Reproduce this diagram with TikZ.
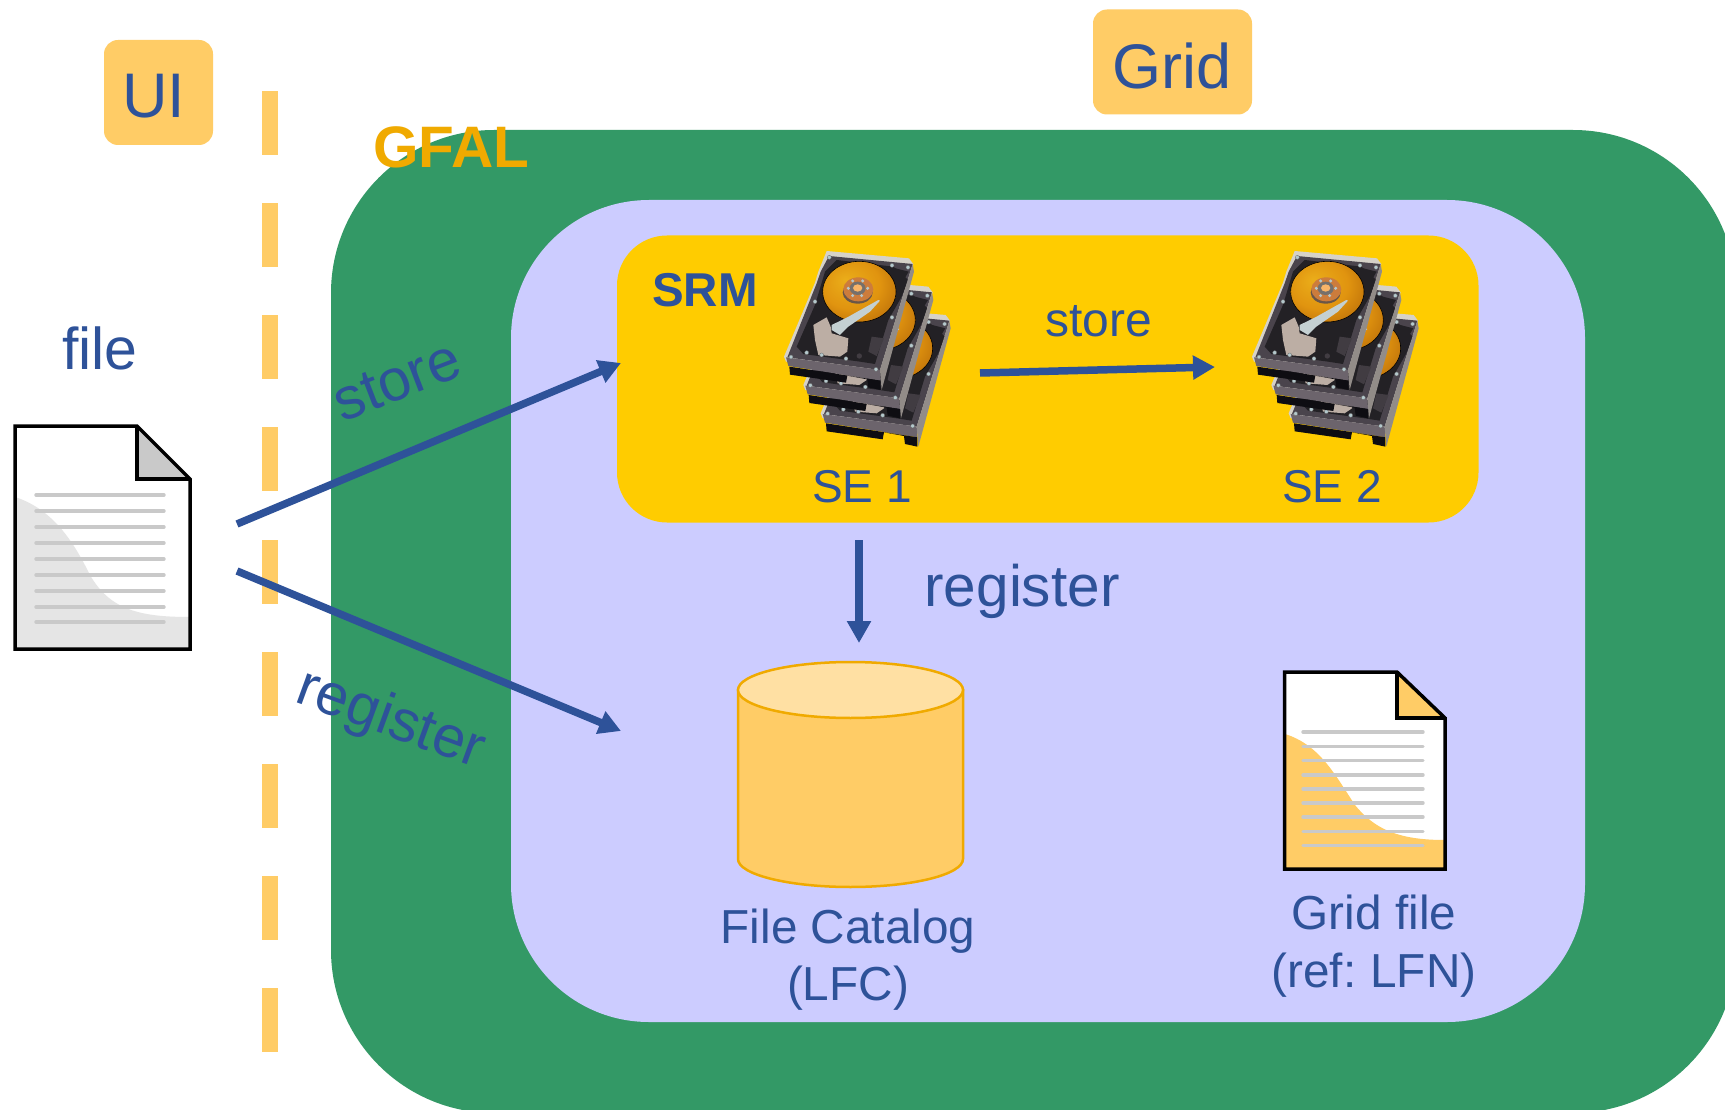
\documentclass[tikz,border=0pt]{standalone}
\usepackage{fontspec}
\setmainfont{Liberation Sans}
\usetikzlibrary{arrows.meta}
\definecolor{txtblue}{HTML}{2E5299}
\definecolor{gfalgreen}{HTML}{339966}
\definecolor{lav}{HTML}{CCCCFF}
\definecolor{srmyellow}{HTML}{FFCC00}
\definecolor{softorange}{HTML}{FFCC66}
\definecolor{deeporange}{HTML}{F0AA00}
\definecolor{hddrim}{HTML}{D6D2C8}
\definecolor{hddplate}{HTML}{4A444C}
\definecolor{hddpit}{HTML}{232125}
\definecolor{hddmid}{HTML}{413C42}
\definecolor{hddband}{HTML}{6C646C}
\definecolor{hddside}{HTML}{928C88}
\definecolor{hddblack}{HTML}{0E0D12}
\definecolor{hubb}{HTML}{CC7C3C}
\definecolor{hubs}{HTML}{6A5648}
\definecolor{hubc}{HTML}{F8B468}
\definecolor{hubr}{HTML}{75706C}
\definecolor{actc}{HTML}{BCAEA4}
\definecolor{armc}{HTML}{C4D0D2}
\definecolor{screwc}{HTML}{B4C8CC}
\pgfdeclareradialshading{platterfill}{\pgfpoint{-10bp}{10bp}}{%
  rgb(0bp)=(0.92,0.68,0.10);
  rgb(20bp)=(0.88,0.58,0.06);
  rgb(32bp)=(0.76,0.46,0.04);
  rgb(50bp)=(0.56,0.30,0.02)}
\newcommand{\fsz}[1]{\fontsize{#1}{#1}\selectfont}
\tikzset{
  label/.style={text=txtblue,inner sep=0pt,font=\fsz{#1}},
  tagbox/.style={fill=softorange,rounded corners=14pt},
  dashbar/.style={fill=softorange},
  flow/.style={draw=txtblue,line width=7.5pt,-{Triangle[length=22pt,width=23pt]}},
  docline/.style={draw=black!21,line width=3.4pt,line cap=round},
  docedge/.style={draw=black,line width=3.5pt,line join=miter},
  screw/.style={fill=screwc,draw=black!60,line width=.3pt},
}
\newcommand{\hddunit}[2]{%
\begin{scope}[shift={(#1,#2)},line join=round]
  \fill[hddrim] (200,63)--(447,85)--(460,102)--(362,425)--(78,395)--(72,380)--(165,158)--(175,125)--cycle;
  \fill[hddplate] (207,78)--(458,102)--(360,420)--(82,382)--(170,160)--(182,125)--cycle;
  \fill[hddpit] (230,90)--(400,110)--(445,150)--(425,200)--(385,270)--(345,402)--(300,395)--(130,372)--(110,350)--(165,225)--(195,125)--cycle;
  \fill[hddmid] (335,320)--(372,325)--(350,378)--(325,365)--cycle;
  \fill[hddpit] (395,112)--(405,150)--(425,160)--(446,125)--cycle;
  \shade[shading=platterfill,draw=black,line width=.6pt] (298,185) ellipse[x radius=110,y radius=91];
  \fill[hubs] (293,188) ellipse[x radius=45,y radius=33];
  \fill[hubb] (295,178) ellipse[x radius=45,y radius=36];
  \fill[hubr] (293,175) ellipse[x radius=24,y radius=20];
  \fill[hubc] (293,174) ellipse[x radius=14,y radius=11];
  \foreach \a/\b in {308/153,278/153,323/175,265/175,305/197,278/197}{\fill[screwc] (\a,\b) circle[radius=5];}
  \fill[actc] (160,285)--(200,262)--(212,290)--(215,310)--(265,325)--(262,365)--(240,380)--(175,375)--(165,330)--cycle;
  \fill[armc] (215,285)--(262,262)--(355,210)--(360,212)--(330,245)--(265,290)--(240,315)--(215,300)--cycle;
  \fill[hddmid] (298,378) circle[radius=8];
  % front and side faces
  \fill[hddband] (78,382)--(360,420)--(362,452)--(85,408)--cycle;
  \fill[hddblack] (88,410)--(362,452)--(362,480)--(325,472)--(322,448)--(262,437)--(258,458)--(90,434)--cycle;
  \fill[hddside] (458,102)--(360,420)--(365,480)--(462,125)--cycle;
  \foreach \a/\b in {208/82,396/106,444/112,165/215,396/262,348/418,258/386,185/375,140/368,93/381}{\filldraw[screw] (\a,\b) circle[radius=6];}
\end{scope}}
\newcommand{\hddstack}[2]{%
\begin{scope}[shift={(#1,#2)},x=.3333pt,y=-.3333pt]
  \hddunit{110}{170}\hddunit{58}{85}\hddunit{0}{0}
\end{scope}}
\begin{document}
\begin{tikzpicture}[x=1pt,y=-1pt]
\useasboundingbox (0,0) rectangle (1725,1110);
\clip (0,0) rectangle (1725,1110);
\fill[white] (0,0) rectangle (1725,1110);
% regions
\path[fill=gfalgreen,rounded corners=163pt] (331,130) rectangle (1736,1113);
\path[fill=lav,rounded corners=138pt] (511,200) rectangle (1585,1022);
\path[fill=srmyellow,rounded corners=50pt] (617,235.5) rectangle (1478.5,522.5);
% tags
\node[tagbox,minimum width=109pt,minimum height=105pt,inner sep=0pt] (uibox) at (158.5,92.5) {};
\node[label=63] (uitext) at (154,96) {UI};
\node[tagbox,minimum width=159pt,minimum height=105pt,inner sep=0pt] (gridbox) at (1172.5,62) {};
\node[label=63] (gridtext) at (1172,66) {Grid};
% dashed divider
\foreach \y in {91,203,315,427,540,652,764,876,988}{\fill[dashbar] (262,\y) rectangle (278,\y+64);}
% plain document
\begin{scope}
  \fill[white] (15,426)--(137,426)--(190,479)--(190,649)--(15,649)--cycle;
  \fill[black!10] (15,497) .. controls (55,510) and (75,545) .. (90,575) .. controls (110,610) and (140,617) .. (190,617)--(190,649)--(15,649)--cycle;
  \foreach \y in {495,511,527,543,559,575,591,607,622}{\draw[docline] (36,\y)--(164,\y);}
  \fill[black!21] (137,426)--(190,479)--(137,479)--cycle;
  \draw[docedge] (137,426)--(137,479)--(190,479);
  \draw[docedge] (15,426)--(137,426)--(190,479)--(190,649)--(15,649)--cycle;
\end{scope}
% grid document
\begin{scope}
  \fill[white] (1284,672)--(1397,672)--(1445,718)--(1445,869)--(1284,869)--cycle;
  \fill[softorange] (1285,734) .. controls (1320,745) and (1335,775) .. (1355,805) .. controls (1375,830) and (1400,840) .. (1445,840)--(1445,869)--(1285,869)--cycle;
  \foreach \y in {732,746.5,760.5,775,789,803,817,831.5,845.5}{\draw[docline] (1303,\y)--(1423,\y);}
  \fill[softorange] (1397,672)--(1445,718)--(1397,718)--cycle;
  \draw[docedge] (1397,672)--(1397,718)--(1445,718);
  \draw[docedge] (1284.5,672)--(1397,672)--(1445,718)--(1445,869)--(1284.5,869)--cycle;
\end{scope}
% catalog cylinder
\draw[fill=softorange,draw=deeporange,line width=2.5pt] (738,690) -- (963,690) -- (963,859) arc[start angle=0,end angle=-180,x radius=112.5,y radius=-28] -- cycle;
\draw[fill=softorange!60!white,draw=deeporange,line width=2.5pt] (850.5,690) ellipse[x radius=112.5,y radius=28];
% disks
\hddstack{760}{230}
\hddstack{1228}{230}
% labels
\node[font=\bfseries\fsz{58.5},text=deeporange,inner sep=0pt] (gfal) at (451,147) {GFAL};
\node[font=\bfseries\fsz{47.5},text=txtblue,inner sep=0pt] (srm) at (705,290) {SRM};
\node[label=59] (filetxt) at (100,348) {file};
\node[label=46] (se1) at (862,487) {SE 1};
\node[label=46] (se2) at (1332,487) {SE 2};
\node[label=48] (storemid) at (1099,321) {store};
\node[label=58.5] (regmid) at (1022,591) {register};
\node[label=59,rotate=21] (storerot) at (397,381) {store};
\node[label=58.5,rotate=-20] (regrot) at (390.5,721) {register};
\node[label=47.7,align=center] (lfc) at (848,959.5) {File Catalog\\[9.5pt](LFC)};
\node[label=47.7,align=center] (gfile) at (1374,946) {Grid file\\[10pt]{\spaceskip=.2em (ref: LFN)}};
% connectors
\coordinate (a1) at (237,524); \coordinate (a2) at (621,363);
\coordinate (b1) at (237,571); \coordinate (b2) at (621,731);
\coordinate (c1) at (980,373); \coordinate (c2) at (1215,367);
\coordinate (d1) at (859,540); \coordinate (d2) at (859,643);
\draw[flow] (a1)--(a2);
\draw[flow] (b1)--(b2);
\draw[flow] (c1)--(c2);
\draw[flow] (d1)--(d2);
\end{tikzpicture}
\end{document}
